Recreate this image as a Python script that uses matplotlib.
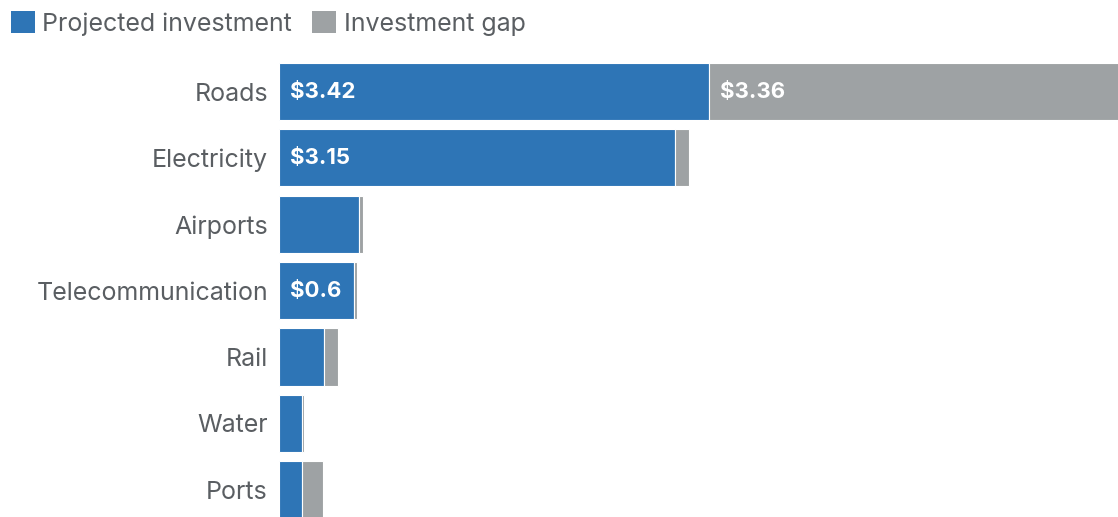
import matplotlib
matplotlib.use("Agg")
import matplotlib.pyplot as plt
from matplotlib.patches import Patch
from matplotlib.transforms import offset_copy

categories = ["Roads", "Electricity", "Airports", "Telecommunication", "Rail", "Water", "Ports"]
projected = [3.42, 3.15, 0.64, 0.60, 0.36, 0.18, 0.18]
gap = [3.36, 0.11, 0.03, 0.02, 0.11, 0.02, 0.17]
projected_labels = ["$3.42", "$3.15", "", "$0.6", "", "", ""]
gap_labels = ["$3.36", "", "", "", "", "", ""]

BLUE = "#2E75B6"
GRAY = "#9EA2A4"
TEXT = "#5a5e62"

plt.rcParams["font.family"] = ["Inter", "DejaVu Sans"]

W, H = 1118, 517
fig = plt.figure(figsize=(W / 100, H / 100), dpi=100)
ax = fig.add_axes([279 / W, 0, 1 - 279 / W, (517 - 55) / H])

y = list(range(len(categories)))
ax.barh(y, projected, height=0.86, color=BLUE, edgecolor="white", linewidth=0.8)
ax.barh(y, gap, left=projected, height=0.86, color=GRAY, edgecolor="white", linewidth=0.8)

ax.set_xlim(0, (W - 279) / 125.7)
ax.set_ylim(6.41, -0.55)

for i in y:
    if projected_labels[i]:
        ax.text(0, i, projected_labels[i], color="white", fontsize=16, fontweight="bold",
                va="center", ha="left",
                transform=offset_copy(ax.transData, fig=fig, x=11, y=0, units="dots"))
    if gap_labels[i]:
        ax.text(projected[i], i, gap_labels[i], color="white", fontsize=16, fontweight="bold",
                va="center", ha="left",
                transform=offset_copy(ax.transData, fig=fig, x=11, y=0, units="dots"))

ax.set_yticks(y)
ax.set_yticklabels(categories, fontsize=18, color=TEXT)
ax.tick_params(axis="y", length=0, pad=8)
ax.set_xticks([])
for s in ax.spines.values():
    s.set_visible(False)

handles = [Patch(facecolor=BLUE, label="Projected investment"),
           Patch(facecolor=GRAY, label="Investment gap")]
fig.legend(handles=handles, loc="upper left", bbox_to_anchor=(0.0, 1.0), ncol=2,
           frameon=False, fontsize=18, labelcolor=TEXT, handlelength=0.95, handleheight=0.95,
           handletextpad=0.3, columnspacing=0.8, borderaxespad=0.15, borderpad=0.3)

fig.savefig("out.png", dpi=100)
